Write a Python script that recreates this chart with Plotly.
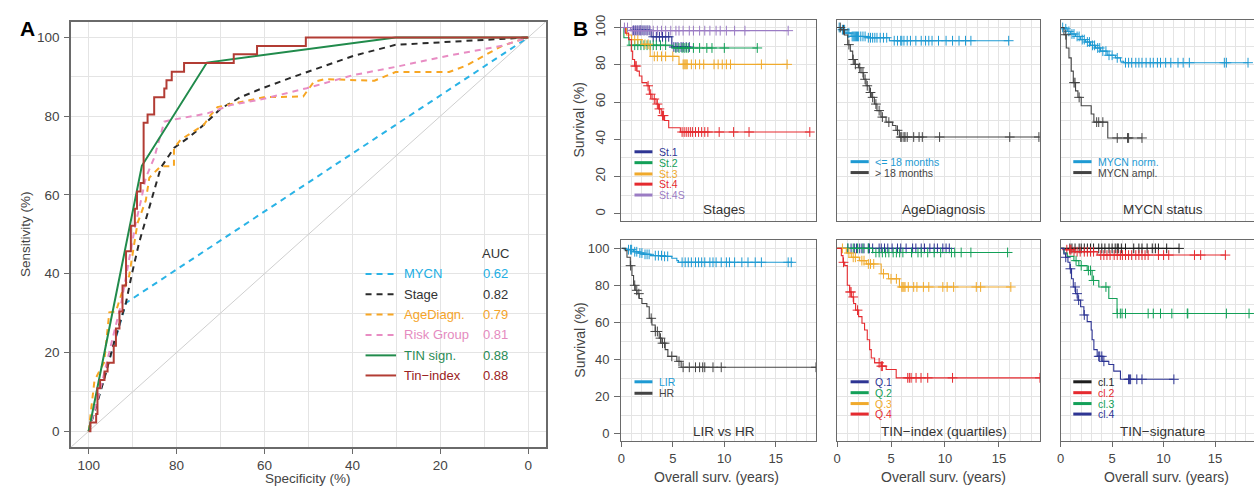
import numpy as np
import plotly.graph_objects as go

W, H = 1254, 487
FONT = "Liberation Sans, Arial, sans-serif"

# ---------------- Panel A : ROC curves (specificity %, sensitivity %) ----------------
roc_names = ["MYCN", "Stage", "AgeDiagn.", "Risk Group", "TIN sign.", "Tin\u2212index"]
roc_auc = ["0.62", "0.82", "0.79", "0.81", "0.88", "0.88"]

mycn_spec = [100, 91.5, 0]
mycn_sens = [0, 32.6, 100]

stage_spec = [100, 96.4, 94.2, 91.5, 90.2, 88.5, 85.8, 83.6, 80.6, 77, 73.8, 70, 65.5, 60.9, 54.4, 47, 39.5, 30.2, 18, 5.9, 0]
stage_sens = [0, 13.5, 22.7, 32.7, 39.8, 48, 58.4, 66.9, 71.9, 74.8, 77.8, 81.9, 84.8, 86.9, 89.6, 92.5, 95.4, 98.1, 98.9, 99.6, 100]

age_spec = [100, 99.5, 98.7, 97.6, 96.5, 95.3, 93.8, 92.5, 90.8, 88.9, 87, 86.2, 83.6, 80.6, 80.6, 79.1, 73.8, 72.3, 70.7, 67, 60.2, 51.2, 48.8, 46.4, 39.1, 35, 30.2, 18, 14, 5.9, 0]
age_sens = [0, 5.2, 12.7, 15.2, 17.4, 30.2, 30.4, 35, 39.4, 52.8, 58.6, 64.4, 67.3, 67.3, 71.9, 74, 77.8, 80.2, 82.3, 83.2, 84.8, 85, 88.7, 89.4, 89.1, 89, 91.2, 91.2, 92.9, 97.9, 100]

risk_spec = [100, 97.5, 94.2, 92.7, 90.8, 89.3, 88.1, 87, 85.1, 82.8, 81.3, 73, 67.7, 60.2, 50.4, 39.9, 30.2, 18, 5.9, 0]
risk_sens = [0, 10, 25.2, 31.9, 43.6, 52.8, 58.6, 64.4, 69.4, 78.6, 79, 80.7, 82.8, 84.4, 87.1, 90.4, 92.5, 95.4, 97.9, 100]

tin_spec = [100, 87.9, 73.1, 30.2, 0]
tin_sens = [0, 67.4, 93.6, 100, 100]

tinidx_spec = [100, 99.6, 98.3, 98, 97.4, 96.4, 95.7, 94.3, 93.8, 93, 92.3, 91.5, 90.4, 89.5, 89, 88.2, 87.5, 86.6, 85.1, 82.8, 82.3, 81.1, 78.3, 67, 61.7, 50.6, 0]
tinidx_sens = [0, 2.2, 4.4, 10.9, 13, 15.2, 17.4, 21.7, 26.1, 30.4, 37, 45.7, 52.2, 56.5, 60.9, 63, 78.3, 80.4, 84.8, 87, 89.1, 91.3, 93.5, 95.7, 97.8, 100, 100]

chance_line = [-4, 104]

# ---------------- Panel B : Kaplan-Meier curves (years, survival %) ----------------
# Stages
st1_t = [0, 0.9, 2.9, 4.9];            st1_s = [100, 98.5, 95, 89.5]
st1_c = [1.2, 1.4, 1.6, 1.8, 1.9, 2.1, 2.3, 2.5, 2.7, 3.1, 3.4, 3.7, 4.0, 4.3, 4.6, 5.1, 5.3, 5.5, 5.8, 6.0, 6.3, 6.6]
st2_t = [0, 0.25, 0.75, 5.0];          st2_s = [100, 94.5, 90.5, 89]
st2_c = [1.0, 1.3, 1.6, 1.9, 2.2, 2.5, 2.8, 3.1, 3.4, 3.8, 4.3, 5.3, 5.6, 5.9, 6.1, 6.3, 6.5, 7.0, 7.6, 8.3, 8.8, 10.0, 13.2]
st3_t = [0, 0.5, 1.0, 2.0, 2.8, 5.6];  st3_s = [100, 96, 93.5, 91, 84.5, 80.2]
st3_c = [1.3, 1.6, 2.3, 2.6, 3.2, 3.5, 3.9, 4.3, 5.0, 6.0, 6.1, 6.2, 6.3, 6.4, 6.8, 7.2, 7.6, 8.0, 9.0, 9.4, 9.8, 10.2, 10.6, 13.6, 16.1]
st4_t = [0, 0.39, 0.71, 0.97, 1.1, 1.29, 1.52, 1.75, 2.0, 2.49, 2.72, 2.98, 3.37, 3.62, 3.88, 4.2, 4.6, 5.73]
st4_s = [100, 97, 93.5, 87.3, 82.8, 79.3, 76.6, 74, 70.4, 68.7, 64.2, 61.6, 58.9, 56.3, 52.7, 50.1, 46.2, 43.9]
st4_c = [1.35, 1.45, 2.6, 2.85, 3.2, 3.5, 3.7, 4.0, 4.1, 5.9, 6.1, 6.3, 6.5, 6.7, 6.9, 7.2, 7.5, 7.8, 8.1, 8.4, 9.5, 10.9, 12.4, 18.3]
st4s_t = [0, 0.9];                     st4s_s = [100, 98.3]
st4s_c = [0.3, 0.6, 1.1, 1.3, 1.5, 1.7, 1.9, 2.2, 2.5, 2.8, 3.1, 3.5, 3.9, 4.3, 4.8, 5.3, 5.6, 6.0, 6.6, 7.0, 7.6, 8.1, 8.6, 9.2, 9.6, 10.2, 11.0, 12.0, 16.2]

# Age at diagnosis
young_t = [0, 0.37, 0.83, 1.3, 2.84, 4.85]; young_s = [100, 98.8, 97, 95.2, 94.5, 92.9]
young_c = [0.2, 0.5, 0.7, 1.0, 1.1, 1.4, 1.5, 1.6, 1.7, 1.8, 1.9, 2.0, 2.2, 2.4, 2.6, 2.9, 3.1, 3.3, 3.5, 3.7, 4.0, 4.3, 4.6,
           5.3, 5.6, 5.9, 6.0, 6.2, 6.5, 6.8, 7.3, 7.8, 8.2, 8.5, 8.8, 9.4, 10.1, 10.7, 11.3, 11.9, 12.4, 15.9]
old_t = [0, 0.37, 0.68, 0.99, 1.23, 1.45, 1.6, 1.98, 2.22, 2.47, 2.69, 2.99, 3.21, 3.46, 3.7, 4.07, 4.54, 5.15, 5.46, 5.77]
old_s = [100, 98.8, 96, 90.8, 87.3, 82.8, 80.2, 78.4, 75.8, 72.2, 68.7, 65.1, 62.5, 58.9, 55.4, 51.9, 49.2, 47.4, 44.8, 41.2]
old_c = [0.3, 0.6, 1.1, 1.5, 1.7, 2.1, 2.4, 2.6, 2.8, 3.1, 3.3, 3.6, 3.9, 4.2, 4.8, 5.6, 5.9, 6.0, 6.2, 6.3, 6.5, 7.1, 7.6, 7.9, 9.5, 16.0, 18.7]

# MYCN status
mnorm_t = [0, 0.32, 0.65, 0.97, 1.45, 1.94, 2.42, 2.9, 3.39, 3.87, 4.52, 5.32, 5.81, 6.13]
mnorm_s = [100, 99.3, 97.9, 96.5, 95.2, 93.5, 92.2, 90.4, 89, 87.3, 85.1, 83.7, 81.9, 81.1]
mnorm_c = [0.2, 0.5, 0.8, 1.1, 1.3, 1.6, 1.8, 2.1, 2.3, 2.6, 2.8, 3.1, 3.3, 3.6, 3.8, 4.1, 4.4, 4.7, 5.0, 5.5, 6.3, 6.6, 6.9, 7.3,
           7.6, 7.9, 8.3, 8.7, 9.0, 9.4, 9.7, 10.2, 10.7, 11.4, 11.9, 12.5, 15.9, 16.1, 18.2]
mampl_t = [0, 0.32, 0.55, 0.81, 1.03, 1.23, 1.45, 1.68, 2.0, 2.97, 3.23, 4.58]
mampl_s = [100, 96.1, 89, 83.7, 76.6, 70.4, 66, 62.5, 58, 53.6, 49.2, 40.7]
mampl_c = [0.5, 1.3, 1.4, 1.8, 3.5, 3.7, 4.1, 5.5, 6.5, 6.6, 7.9]

# LIR vs HR
lir_t = [0, 0.55, 1.19, 1.68, 2.16, 2.81, 3.94, 4.9, 5.39, 5.55]
lir_s = [100, 99.3, 98.2, 97.5, 96.8, 96.1, 95.7, 94.7, 93.4, 92.5]
lir_c = [0.7, 0.9, 1.0, 1.3, 1.5, 1.8, 2.0, 2.3, 2.5, 2.7, 3.3, 3.6, 3.9, 4.2, 4.5, 5.9, 6.2, 6.5, 6.8, 7.2, 7.5, 7.8, 8.1,
         8.6, 8.9, 9.2, 9.7, 10.2, 10.5, 11.0, 11.7, 12.3, 13.0, 13.6, 16.2, 16.5]
hr_t = [0, 0.39, 0.55, 0.87, 1.03, 1.19, 1.35, 1.52, 1.74, 2.0, 2.48, 2.71, 2.97, 3.29, 3.68, 3.94, 4.26, 4.52, 5.39, 5.81]
hr_s = [100, 98.8, 95.2, 90.7, 85.4, 80.1, 77.4, 75.6, 73, 70.3, 68.5, 62.3, 58.7, 55.2, 51.6, 48.9, 45.4, 41.8, 39.1, 35.9]
hr_c = [0.9, 1.3, 1.5, 1.7, 2.9, 3.3, 3.5, 3.8, 4.0, 4.2, 4.9, 5.6, 6.0, 6.6, 7.2, 7.6, 7.9, 8.1, 8.9, 9.7, 18.9]

# TIN-index quartiles
q1_t = [0]; q1_s = [100]
q1_c = [1.0, 1.3, 1.6, 1.8, 2.1, 2.3, 2.5, 2.9, 3.0, 3.3, 3.9, 4.1, 4.4, 4.7, 5.1, 5.6, 5.9, 6.4, 7.0, 7.3, 7.8, 8.1, 8.6, 9.0, 9.3, 9.8, 10.1, 10.4]
q2_t = [0, 3.3]; q2_s = [100, 97.8]
q2_c = [1.0, 1.5, 1.9, 2.4, 2.9, 3.6, 3.9, 4.2, 4.5, 4.8, 5.2, 5.5, 5.8, 6.1, 6.9, 7.5, 7.8, 8.4, 9.0, 9.6, 10.6, 10.9, 11.5, 12.4, 15.8]
q3_t = [0, 0.86, 1.32, 2.09, 2.71, 4.09, 4.77, 5.78]
q3_s = [100, 97.5, 95.2, 93.4, 91.6, 86.3, 83.6, 79.2]
q3_c = [0.5, 1.1, 1.5, 1.7, 2.3, 2.5, 2.9, 3.1, 3.4, 4.3, 5.0, 5.5, 6.0, 6.1, 6.2, 6.3, 6.6, 7.1, 7.4, 8.0, 8.5, 9.8, 10.2, 10.8, 12.9, 13.3, 16.1]
q4_t = [0, 0.4, 0.55, 0.71, 0.95, 1.17, 1.32, 1.54, 1.72, 2.0, 2.31, 2.55, 2.8, 3.02, 3.17, 3.48, 4.09, 4.55, 5.48]
q4_s = [100, 96.1, 92.5, 90.7, 80.1, 76.5, 73.8, 70.3, 66.7, 63.2, 59.6, 56, 50.7, 45.4, 40.9, 38.3, 36.5, 34.7, 30.2]
q4_c = [0.6, 1.2, 1.3, 1.5, 1.9, 3.9, 4.1, 4.2, 6.55, 6.7, 6.86, 7.32, 7.78, 8.4, 10.7, 18.8]

# TIN-signature clusters
cl1_t = [0]; cl1_s = [100]
cl1_c = [0.9, 1.1, 1.4, 1.8, 2.0, 2.3, 2.6, 2.9, 3.2, 3.7, 4.0, 4.3, 4.7, 5.0, 5.3, 5.5, 5.6, 5.9, 6.3, 7.1, 7.6, 7.9, 8.4, 8.9, 9.2, 9.5, 10.3, 11.5]
cl2_t = [0, 0.32, 1.29, 3.55]; cl2_s = [100, 99.3, 98.2, 96.4]
cl2_c = [0.6, 0.9, 1.0, 1.3, 1.6, 1.9, 2.3, 2.6, 2.9, 3.2, 3.9, 4.2, 4.5, 4.8, 5.2, 5.5, 5.8, 6.0, 6.3, 6.6, 6.9, 7.3, 7.6, 7.9,
         8.2, 8.5, 9.5, 10.0, 10.5, 13.0, 13.6, 16.0]
cl3_t = [0, 0.32, 0.65, 1.29, 1.77, 2.58, 3.06, 3.71, 4.68, 5.48]
cl3_s = [100, 97.5, 95.7, 93.4, 90.7, 88.1, 82.7, 79.2, 73, 64.9]
cl3_c = [1.5, 2.0, 2.7, 2.9, 3.2, 4.4, 5.5, 5.8, 5.97, 6.3, 8.5, 9.0, 9.7, 10.8, 12.3, 12.35, 16.1, 18.3]
cl4_t = [0, 0.32, 0.48, 0.71, 0.9, 1.06, 1.23, 1.45, 1.68, 1.94, 2.26, 2.58, 2.97, 3.06, 3.23, 3.55, 4.03, 4.68, 5.16, 5.81]
cl4_s = [100, 97, 95.2, 92.5, 89, 83.6, 79.2, 75.6, 72.1, 68.5, 64.1, 60.5, 56, 50.7, 45.4, 41.8, 39.1, 37.4, 33.8, 29.4]
cl4_c = [0.5, 0.95, 1.4, 1.6, 1.75, 2.3, 3.7, 3.8, 4.0, 4.2, 6.6, 6.7, 6.8, 7.4, 7.9, 11.0]

xticks_years = [0, 5, 10, 15]
yticks_surv = [0, 20, 40, 60, 80, 100]

# ---------------- colours ----------------
C_BLUE = "#1E9AD3"; C_GREY = "#444444"; C_NAVY = "#2E3594"; C_GREEN = "#13A058"
C_ORANGE = "#F0AA2C"; C_RED = "#E52A2F"; C_PURPLE = "#9B7CC4"; C_BLACK = "#1E1E1E"

roc_colors = ["#2AB3E6", "#2A2A2A", "#F7A623", "#E88CC3", "#218B4C", "#B23C34"]
roc_text_colors = ["#22AEE3", "#333333", "#F5A42A", "#E58BC0", "#2A8B55", "#9B2323"]
roc_dash = ["6px,5px", "6px,5px", "6px,5px", "6px,5px", "solid", "solid"]
roc_data = [(mycn_spec, mycn_sens, "linear"), (stage_spec, stage_sens, "linear"),
            (age_spec, age_sens, "linear"), (risk_spec, risk_sens, "linear"),
            (tin_spec, tin_sens, "linear"), (tinidx_spec, tinidx_sens, "hv")]

panels = [
    dict(ax=2, title="Stages", curves=[
        ("St.1", C_NAVY, st1_t, st1_s, st1_c), ("St.2", C_GREEN, st2_t, st2_s, st2_c),
        ("St.3", C_ORANGE, st3_t, st3_s, st3_c), ("St.4", C_RED, st4_t, st4_s, st4_c),
        ("St.4S", C_PURPLE, st4s_t, st4s_s, st4s_c)]),
    dict(ax=3, title="AgeDiagnosis", curves=[
        ("<= 18 months", C_BLUE, young_t, young_s, young_c), ("> 18 months", C_GREY, old_t, old_s, old_c)]),
    dict(ax=4, title="MYCN status", curves=[
        ("MYCN norm.", C_BLUE, mnorm_t, mnorm_s, mnorm_c), ("MYCN ampl.", C_GREY, mampl_t, mampl_s, mampl_c)]),
    dict(ax=5, title="LIR vs HR", curves=[
        ("LIR", C_BLUE, lir_t, lir_s, lir_c), ("HR", C_GREY, hr_t, hr_s, hr_c)]),
    dict(ax=6, title="TIN\u2212index (quartiles)", curves=[
        ("Q.1", C_NAVY, q1_t, q1_s, q1_c), ("Q.2", C_GREEN, q2_t, q2_s, q2_c),
        ("Q.3", C_ORANGE, q3_t, q3_s, q3_c), ("Q.4", C_RED, q4_t, q4_s, q4_c)]),
    dict(ax=7, title="TIN\u2212signature", curves=[
        ("cl.1", C_BLACK, cl1_t, cl1_s, cl1_c), ("cl.2", C_RED, cl2_t, cl2_s, cl2_c),
        ("cl.3", C_GREEN, cl3_t, cl3_s, cl3_c), ("cl.4", C_NAVY, cl4_t, cl4_s, cl4_c)]),
]

# ---------------- layout geometry (pixels) ----------------
def fx(x):
    return x / W

def fy(y):
    return 1 - y / H

cols = [(619.3, 815.0), (835.7, 1039.3), (1060.0, 1254.0)]
col_xmax = [18.94, 18.8, 18.78]
rows = [(15.0, 218.3), (237.3, 440.7)]
row_yrange = [[-3.9, 104.1], [-3.95, 104.6]]
title_x = [722, 942.7, 1162.7]
title_y = [206.7, 430.5]
legend_line_x = [(632.5, 650.5), (849.3, 867.5), (1072.7, 1091.0)]
legend_text_x = [655, 871.5, 1095]
legend_rows_top = [[148.3, 159.3, 170.7, 181.0, 192.0], [158.3, 169.3], [158.3, 169.3]]
legend_rows_bot = [[380.7, 392.3], [380.7, 391.7, 402.7, 413.3], [380.7, 391.7, 402.7, 413.3]]

fig = go.Figure()

GRID = "#E4E4E4"
FRAME = "#6A6A6A"

def note(x, y, text, size, color, xanchor="center", angle=0):
    return dict(x=fx(x), y=fy(y), xref="paper", yref="paper", text=text, showarrow=False,
                xanchor=xanchor, yanchor="middle", textangle=angle,
                font=dict(size=size, color=color, family=FONT))

# Panel A traces
fig.add_trace(go.Scatter(x=[chance_line[1], chance_line[0]], y=chance_line, mode="lines",
                         line=dict(color="#CFCFCF", width=1), xaxis="x", yaxis="y", hoverinfo="skip"))
for (sx, sy, shp), col, dsh, nm in zip(roc_data, roc_colors, roc_dash, roc_names):
    fig.add_trace(go.Scatter(x=sx, y=sy, mode="lines", name=nm,
                             line=dict(color=col, width=2, dash=dsh, shape=shp), xaxis="x", yaxis="y"))

# Panel B traces
for p in panels:
    a = p["ax"]
    for nm, col, t, s, c in p["curves"]:
        end = max(t[-1], max(c))
        xs = list(t) + [end]
        ys = list(s) + [s[-1]]
        fig.add_trace(go.Scatter(x=xs, y=ys, mode="lines", name=nm,
                                 line=dict(color=col, width=1.1, shape="hv"),
                                 xaxis=f"x{a}", yaxis=f"y{a}"))
        idx = np.searchsorted(np.array(t), np.array(c), side="right") - 1
        cy = [s[i] for i in idx]
        fig.add_trace(go.Scatter(x=c, y=cy, mode="markers", name=nm + " censored",
                                 marker=dict(symbol="cross-thin", size=7, line=dict(color=col, width=1)),
                                 xaxis=f"x{a}", yaxis=f"y{a}"))

annotations = []
shapes = []

# Panel A legend (manual, two columns)
legA_rows = [271.7, 292.3, 312.7, 333.3, 354.0, 374.3]
annotations.append(note(508.3, 250.7, "AUC", 13, "#333333", xanchor="right"))
for yy, nm, auc, col, tcol, dsh in zip(legA_rows, roc_names, roc_auc, roc_colors, roc_text_colors, roc_dash):
    shapes.append(dict(type="line", xref="paper", yref="paper", x0=fx(362.7), x1=fx(393.3), y0=fy(yy), y1=fy(yy),
                       line=dict(color=col, width=2, dash=dsh)))
    annotations.append(note(399, yy, nm, 13, tcol, xanchor="left"))
    annotations.append(note(508, yy, auc, 13, tcol, xanchor="right"))

# Panel B legends & titles
for p in panels:
    a = p["ax"]
    ci = (a - 2) % 3
    ri = 0 if a <= 4 else 1
    rws = legend_rows_top[ci] if ri == 0 else legend_rows_bot[ci]
    for (nm, col, t, s, c), yy in zip(p["curves"], rws):
        shapes.append(dict(type="line", xref="paper", yref="paper", x0=fx(legend_line_x[ci][0]),
                           x1=fx(legend_line_x[ci][1]), y0=fy(yy), y1=fy(yy), line=dict(color=col, width=3)))
        annotations.append(note(legend_text_x[ci], yy, nm.replace("<", "&lt;").replace(">", "&gt;"),
                                10.5, col, xanchor="left"))
    annotations.append(note(title_x[ci], title_y[ri], p["title"], 13.5, "#333333"))

# axis titles & panel letters
annotations += [
    note(24, 24, "<b>A</b>", 21, "black"),
    note(578, 23.5, "<b>B</b>", 21, "black"),
    note(21.5, 231, "Sensitivity (%)", 13.5, "#444444", angle=-90),
    note(305, 478, "Specificity (%)", 13.5, "#444444"),
]
for ri in range(2):
    annotations.append(note(577, (rows[ri][0] + rows[ri][1]) / 2, "Survival (%)", 14, "#444444", angle=-90))
for xc in [715, 943, 1166]:
    annotations.append(note(xc, 476.5, "Overall surv. (years)", 14, "#444444"))

layout = dict(
    width=W, height=H, margin=dict(l=0, r=0, t=0, b=0), paper_bgcolor="white", plot_bgcolor="white",
    showlegend=False, font=dict(family=FONT, color="#444444"), annotations=annotations, shapes=shapes,
    xaxis=dict(domain=[fx(67.3), fx(543.6)], range=[104, -4], anchor="y", tick0=0, dtick=20,
               ticks="outside", ticklen=5, tickcolor=FRAME, showgrid=True, gridcolor=GRID,
               minor=dict(dtick=10, showgrid=True, gridcolor=GRID), showline=True, mirror=True,
               linecolor=FRAME, linewidth=1.5, zeroline=False, tickfont=dict(size=13.5, color="#444444")),
    yaxis=dict(domain=[fy(446.6), fy(16.8)], range=[-4, 104], anchor="x", tick0=0, dtick=20,
               ticks="outside", ticklen=5, tickcolor=FRAME, showgrid=True, gridcolor=GRID,
               minor=dict(dtick=10, showgrid=True, gridcolor=GRID), showline=True, mirror=True,
               linecolor=FRAME, linewidth=1.5, zeroline=False, tickfont=dict(size=13.5, color="#444444"),
               ticklabelstandoff=2),
)

for a in range(2, 8):
    ci = (a - 2) % 3
    ri = 0 if a <= 4 else 1
    xl = ri == 1
    yl = ci == 0
    layout[f"xaxis{a}"] = dict(
        domain=[fx(cols[ci][0]), fx(cols[ci][1])], range=[0, col_xmax[ci]], anchor=f"y{a}",
        tickvals=xticks_years, showticklabels=xl, ticks="outside" if xl else "", ticklen=5, tickcolor=FRAME,
        showgrid=True, gridcolor=GRID, minor=dict(dtick=1, tick0=0, showgrid=True, gridcolor=GRID),
        showline=True, mirror=True, linecolor=FRAME, linewidth=1.4, zeroline=False,
        tickfont=dict(size=13, color="#444444"))
    layout[f"yaxis{a}"] = dict(
        domain=[fy(rows[ri][1]), fy(rows[ri][0])], range=row_yrange[ri], anchor=f"x{a}",
        tickvals=yticks_surv, showticklabels=yl, ticks="outside" if yl else "", ticklen=6, tickcolor=FRAME,
        tickangle=-90 if ri == 0 else 0, ticklabelstandoff=4 if ri == 0 else 2,
        showgrid=True, gridcolor=GRID, minor=dict(dtick=10, tick0=0, showgrid=True, gridcolor=GRID),
        showline=True, mirror=(ci != 2), linecolor=FRAME, linewidth=1.4, zeroline=False,
        tickfont=dict(size=13, color="#444444"))

fig.update_layout(**layout)
fig.write_html("out.html", config={"displayModeBar": False},
               post_script="document.body.style.margin='0';document.body.style.padding='0';"
                           "document.documentElement.style.overflow='hidden';")
